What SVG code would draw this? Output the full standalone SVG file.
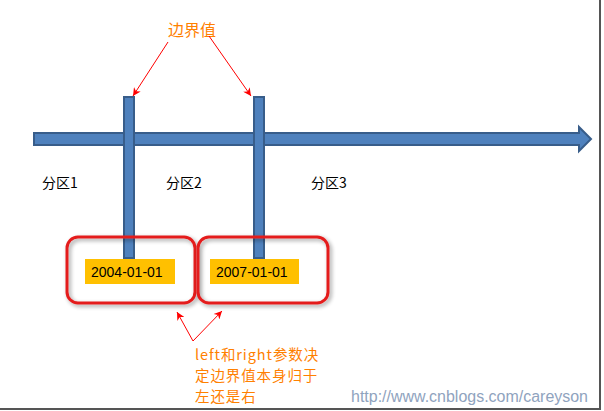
<svg xmlns="http://www.w3.org/2000/svg" width="604" height="411" viewBox="0 0 604 411">
<defs>
<style>
.bar{fill:#4F81BD;stroke:#385D8A;stroke-width:2}
.lbl{font-family:"Noto Sans CJK SC","Liberation Sans",sans-serif;font-size:14px;fill:#000}
.orange{font-family:"Noto Sans CJK SC","Liberation Sans",sans-serif;font-size:16px;fill:#FF8000}
.note{font-family:"Noto Sans CJK SC","Liberation Sans",sans-serif;font-size:14.5px;letter-spacing:0.9px;fill:#FF8000}
.box{fill:none;stroke:#E41E1E;stroke-width:3}
.tag{fill:#FFC000}
.date{font-family:"Liberation Sans",sans-serif;font-size:14px;fill:#000}
.red{stroke:#FF0000;stroke-width:1;fill:none;marker-end:url(#ah)}
</style>
<marker id="ah" viewBox="0 0 10 10" refX="10" refY="5" markerWidth="10" markerHeight="8" orient="auto" markerUnits="userSpaceOnUse">
<path d="M0,0 L10,5 L0,10 L3,5 z" fill="#FF0000"/>
</marker>
<filter id="sh" x="-10%" y="-10%" width="130%" height="130%">
<feGaussianBlur in="SourceAlpha" stdDeviation="2"/>
<feOffset dx="2" dy="2"/>
<feComponentTransfer><feFuncA type="linear" slope="0.4"/></feComponentTransfer>
<feMerge><feMergeNode/><feMergeNode in="SourceGraphic"/></feMerge>
</filter>
</defs>
<rect width="604" height="411" fill="#fff"/>
<g id="frame">
<rect x="599" y="0" width="2" height="410" fill="#555"/>
<rect x="0" y="408" width="601" height="2" fill="#555"/>
</g>
<g id="axis">
<path class="bar" d="M34,133 L579,133 L579,127 L591,139 L579,151 L579,145 L34,145 Z"/>
</g>
<g id="boundary1">
<rect class="bar" x="124" y="97" width="10" height="161"/>
</g>
<g id="boundary2">
<rect class="bar" x="254" y="97" width="10" height="161"/>
</g>
<g id="partitions">
<text class="lbl" x="42" y="188">分区1</text>
<text class="lbl" x="166" y="188">分区2</text>
<text class="lbl" x="311" y="188">分区3</text>
</g>
<g id="box1" filter="url(#sh)">
<rect class="box" x="67" y="237" width="128" height="66" rx="11"/>
</g>
<g id="box2" filter="url(#sh)">
<rect class="box" x="198" y="237" width="130" height="66" rx="11"/>
</g>
<g id="date1">
<rect class="tag" x="85" y="259" width="90" height="25"/>
<text class="date" x="91" y="277">2004-01-01</text>
</g>
<g id="date2">
<rect class="tag" x="210" y="259" width="89" height="25"/>
<text class="date" x="216" y="277">2007-01-01</text>
</g>
<g id="note-top">
<text class="orange" x="168" y="36">边界值</text>
</g>
<g id="note-bottom">
<text class="note" x="195" y="360">left和right参数决</text>
<text class="note" x="195" y="381">定边界值本身归于</text>
<text class="note" x="195" y="402">左还是右</text>
</g>
<g id="connectors">
<line class="red" x1="168" y1="42" x2="133" y2="96"/>
<line class="red" x1="209" y1="36" x2="251" y2="96"/>
<line class="red" x1="193" y1="341" x2="177" y2="312"/>
<line class="red" x1="193" y1="341" x2="222" y2="311"/>
</g>
<g id="watermark">
<text x="351" y="402" font-family="Liberation Sans,sans-serif" font-size="16" fill="#8FA3BE" textLength="237" lengthAdjust="spacingAndGlyphs">http://www.cnblogs.com/careyson</text>
</g>
</svg>
